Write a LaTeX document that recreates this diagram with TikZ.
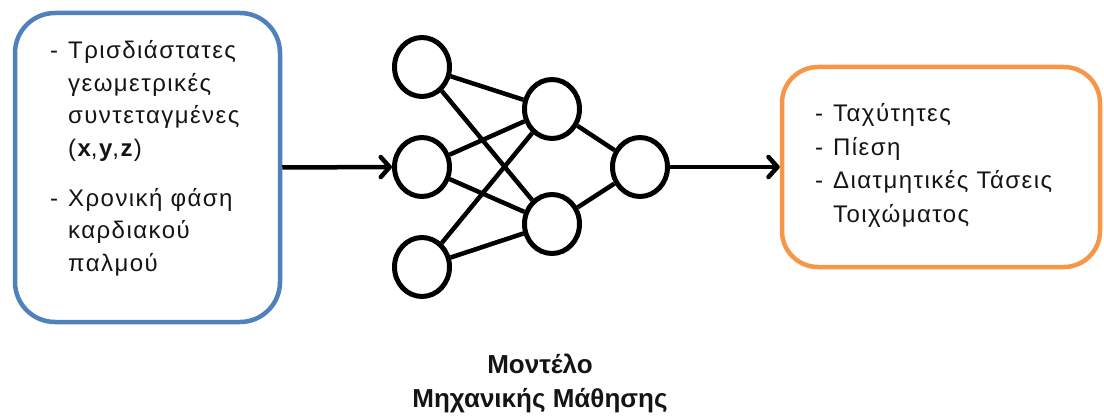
\documentclass[tikz,border=0pt]{standalone}
\usepackage{fontspec}
\setmainfont{Liberation Sans}
\newfontfamily\spacedfont[LetterSpace=6]{Liberation Sans}
\usetikzlibrary{arrows.meta,shapes.geometric}
\definecolor{boxblue}{HTML}{4F81BD}
\definecolor{boxorange}{HTML}{F79646}
\definecolor{inkcol}{HTML}{141414}
\tikzset{
  inbox/.style={draw=boxblue, line width=4.5pt, rounded corners=40pt, minimum width=265pt, minimum height=309pt, inner sep=0pt},
  outbox/.style={draw=boxorange, line width=4.5pt, rounded corners=36pt, minimum width=318pt, minimum height=200pt, inner sep=0pt},
  neuron/.style={ellipse, draw, line width=5pt, minimum width=55pt, minimum height=59pt, inner sep=0pt, fill=white},
  link/.style={line width=4.5pt},
  flow/.style={line width=4.5pt, -{Straight Barb[round, length=9pt, width=20pt]}},
  itemtxt/.style={font=\spacedfont\fontsize{24}{29}\selectfont, text=inkcol, inner sep=0pt, anchor=base west},
  titletxt/.style={font=\bfseries\fontsize{26}{31}\selectfont, text=inkcol, inner sep=0pt, anchor=base}
}
\begin{document}
\begin{tikzpicture}[x=1pt,y=-1pt]
\useasboundingbox (0,0) rectangle (1104,417);
% boxes
\node[inbox] (inbox) at (147.5,167.5) {};
\node[outbox] (outbox) at (941,167) {};
% left texts
\node[itemtxt] (dashA) at (50,59) {-};
\node[itemtxt] (txtA1) at (68,59) {Τρισδιάστατες};
\node[itemtxt] (txtA2) at (68,91.5) {γεωμετρικές};
\node[itemtxt] (txtA3) at (68,124) {συντεταγμένες};
\node[itemtxt] (txtA4) at (68,157) {(\textbf{x},\textbf{y},\textbf{z})};
\node[itemtxt] (dashB) at (50,207) {-};
\node[itemtxt] (txtB1) at (68,207) {Χρονική φάση};
\node[itemtxt] (txtB2) at (68,239) {καρδιακού};
\node[itemtxt] (txtB3) at (68,271) {παλμού};
% right texts
\node[itemtxt] (dashC) at (815,122) {-};
\node[itemtxt] (txtC) at (833,122) {Ταχύτητες};
\node[itemtxt] (dashD) at (815,155.5) {-};
\node[itemtxt] (txtD) at (833,155.5) {Πίεση};
\node[itemtxt] (dashE) at (815,189) {-};
\node[itemtxt] (txtE1) at (833,189) {Διατμητικές Τάσεις};
\node[itemtxt] (txtE2) at (833,222.5) {Τοιχώματος};
% network
\node[neuron] (i1) at (422,67) {};
\node[neuron] (i2) at (422,167) {};
\node[neuron] (i3) at (422,267) {};
\node[neuron] (h1) at (552,109) {};
\node[neuron] (h2) at (552,224) {};
\node[neuron] (o1) at (640,167) {};
\foreach \a in {i1,i2,i3}{
  \foreach \b in {h1,h2}{
    \draw[link] (\a) -- (\b);
  }
}
\draw[link] (h1) -- (o1);
\draw[link] (h2) -- (o1);
% arrows
\draw[flow] (inbox.east) -- (i2.west);
\draw[flow] (o1.east) -- (outbox.west);
% title
\node[titletxt] (title1) at (540,373) {Μοντέλο};
\node[titletxt] (title2) at (540,407) {Μηχανικής Μάθησης};
\end{tikzpicture}
\end{document}
